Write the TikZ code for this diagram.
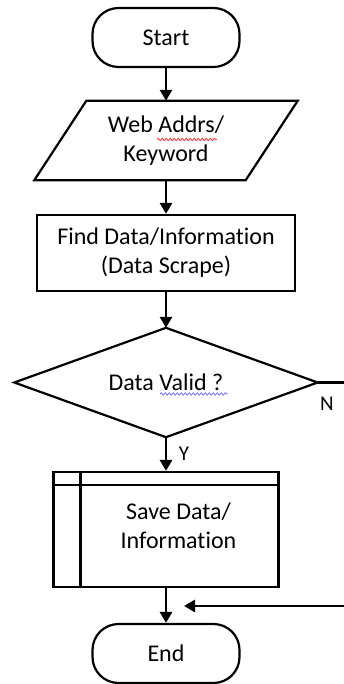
\documentclass[tikz,border=0pt]{standalone}
\usepackage{fontspec}
\setmainfont{Carlito}[Ligatures=CommonOff]
\usetikzlibrary{arrows.meta,calc,decorations.pathmorphing}
\begin{document}
\begin{tikzpicture}[x=1pt,y=1pt,
  every node/.style={font=\fontsize{24}{29}\selectfont, align=center, inner sep=0pt},
  shapebox/.style={draw=none, minimum width=#1},
  outline/.style={line width=2.2pt, line join=miter},
  flow/.style={line width=2.8pt, -{Triangle[length=11pt,width=12pt]}},
  plainline/.style={line width=2.8pt},
  squiggle/.style={line width=0.8pt, decorate, decoration={snake, amplitude=1.2pt, segment length=4pt}},
  tag/.style={font=\fontsize{21}{24}\selectfont}
]
\useasboundingbox (0,0) rectangle (344,-684);

% terminals, steps and decision
\node[shapebox=147, minimum height=59, draw, outline, rounded corners=26pt] (start) at (166,-37.5) {Start};
\node[shapebox=211, minimum height=79] (input) at (166,-140.5) {Web Addrs/\\Keyword};
\draw[outline] ($(input.north west)+(26,0)$) -- ($(input.north east)+(26,0)$)
  -- ($(input.south east)+(-26,0)$) -- ($(input.south west)+(-26,0)$) -- cycle;
\node[shapebox=258, minimum height=76, draw, outline] (find) at (166,-253) {Find Data/Information\\(Data Scrape)};
\node[shapebox=303, minimum height=109] (valid) at (166,-382.5) {Data Valid ?};
\draw[outline] (valid.north) -- (valid.east) -- (valid.south) -- (valid.west) -- cycle;
% predefined process: frame with a side bar and a top strip
\node[shapebox=225, minimum height=115, draw, outline] (save) at (166,-529.5) {};
\draw[outline] ($(save.north west)+(28,0)$) -- ($(save.south west)+(28,0)$);
\draw[outline] ($(save.north west)+(0,-14)$) -- ($(save.north east)+(0,-14)$);
\node (savetext) at ($(save.center)+(12.5,4)$) {Save Data/\\Information};
\node[shapebox=147, minimum height=59, draw, outline, rounded corners=26pt] (end) at (166,-653.5) {End};

% spell-check marks under words
\draw[squiggle, red!80] (157,-139.5) -- (217,-139.5);
\draw[squiggle, blue!55] (160,-394) -- (228,-394);

% connectors
\draw[flow] (start.south) -- (input.north);
\draw[flow] (input.south) -- (find.north);
\draw[flow] (find.south) -- (valid.north);
\draw[flow] (valid.south) -- (save.north);
\draw[flow] (save.south) -- (end.north);

\coordinate (nout) at (344,-382.5);
\draw[plainline] (valid.east) -- (nout);
\coordinate (back) at (344,-606);
\coordinate (backtip) at (184,-606);
\draw[flow] (back) -- (backtip);

% branch labels
\node[tag] (nlab) at (327,-404) {N};
\node[tag] (ylab) at (184,-454) {Y};
\end{tikzpicture}
\end{document}
